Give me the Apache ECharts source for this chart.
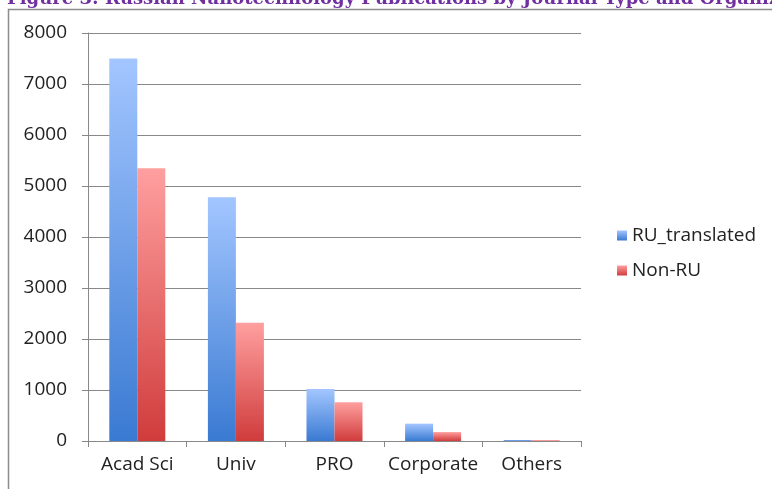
<!DOCTYPE html>
<html><head><meta charset="utf-8">
<script src="https://cdn.jsdelivr.net/npm/echarts@6/dist/echarts.min.js"></script>
<style>html,body{margin:0;padding:0;background:#fff}#c{width:772px;height:489px}</style>
</head><body><div id="c"></div>
<script>
const categories = ['Acad Sci', 'Univ', 'PRO', 'Corporate', 'Others'];
const ruTranslated = [7500, 4780, 1020, 340, 20];
const nonRU = [5350, 2320, 760, 175, 15];
const yTicks = [0, 1000, 2000, 3000, 4000, 5000, 6000, 7000, 8000];
const titleText = 'Figure 3: Russian Nanotechnology Publications by Journal Type and Organization';

const chart = echarts.init(document.getElementById('c'));
const font = '"Open Sans", sans-serif';
const blueGrad = new echarts.graphic.LinearGradient(0, 0, 0, 1, [
  {offset: 0, color: '#a3c6ff'}, {offset: 1, color: '#3a7ad2'}]);
const redGrad = new echarts.graphic.LinearGradient(0, 0, 0, 1, [
  {offset: 0, color: '#ff9f9f'}, {offset: 1, color: '#d03c3c'}]);
chart.setOption({
  animation: false,
  title: {text: titleText, left: 2, top: -15,
    textStyle: {color: '#7030a0', fontFamily: '"DejaVu Serif", serif', fontWeight: 'bold', fontSize: 18}},
  graphic: [{type: 'rect', shape: {x: 8.5, y: 9.5, width: 800, height: 600},
    style: {fill: 'none', stroke: '#8c8c8c', lineWidth: 1.5}, z: -1}],
  grid: {left: 88, top: 33, width: 493, height: 408},
  legend: {orient: 'vertical', left: 612, top: 221, itemGap: 16, itemWidth: 10, itemHeight: 10,
    icon: 'rect', textStyle: {fontFamily: font, fontSize: 19, color: '#222'},
    data: [{name: 'RU_translated', itemStyle: {color: blueGrad}}, {name: 'Non-RU', itemStyle: {color: redGrad}}]},
  xAxis: {type: 'category', data: categories,
    axisLine: {lineStyle: {color: '#888'}},
    axisTick: {show: true, length: 6, lineStyle: {color: '#888'}},
    axisLabel: {fontFamily: font, fontSize: 19, color: '#222', margin: 14, interval: 0}},
  yAxis: {type: 'value', min: yTicks[0], max: yTicks[yTicks.length - 1], interval: 1000,
    axisLine: {show: true, lineStyle: {color: '#888'}},
    axisTick: {show: true, length: 6, lineStyle: {color: '#888'}},
    splitLine: {lineStyle: {color: '#888'}},
    axisLabel: {fontFamily: font, fontSize: 19, color: '#222', margin: 21, formatter: v => String(v)}},
  series: [
    {name: 'RU_translated', type: 'bar', data: ruTranslated, barWidth: 28, barGap: '0%', itemStyle: {color: blueGrad}},
    {name: 'Non-RU', type: 'bar', data: nonRU, barWidth: 28, barGap: '0%', itemStyle: {color: redGrad}}
  ]
});
</script></body></html>
